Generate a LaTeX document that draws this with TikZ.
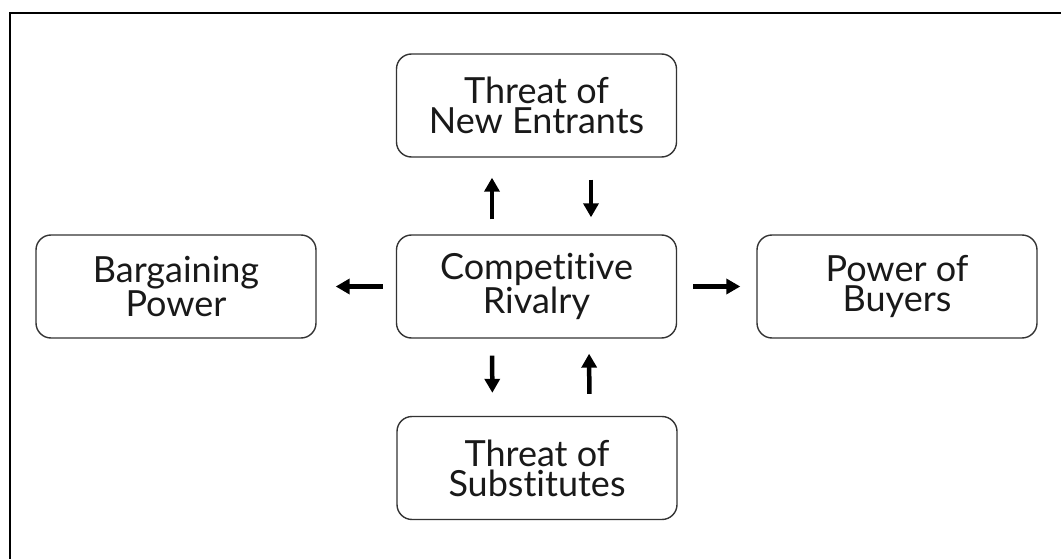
\documentclass[tikz,border=0pt]{standalone}
\usepackage{fontspec}
\setmainfont{Lato}[Ligatures=NoCommon]
\usetikzlibrary{arrows.meta}

\tikzset{
    force/.style={draw=black!80, line width=1.4pt, rounded corners=15pt,
        minimum width=280pt, minimum height=103pt, align=center,
        font=\fontsize{36}{30}\selectfont, text=black!90},
    push/.style={line width=4.5pt, -{Triangle[length=14pt,width=15pt]}}
}

\begin{document}
\begin{tikzpicture}[x=1pt, y=-1pt]
    \useasboundingbox (0,0) rectangle (1061,559);

    % Frame
    \draw[line width=2.6pt] (10,570) -- (10,13) -- (1070,13);

    % Forces
    \node[force] (entrants) at (536.5,105.5) {Threat of\\New Entrants};
    \node[force] (rivalry) at (536.5,286.5) {Competitive\\Rivalry};
    \node[force] (bargaining) at (176,286.5) {Bargaining\\Power};
    \node[force] (buyers) at (897,286.5) {Power of\\Buyers};
    \node[force] (substitutes) at (537,468) {Threat of\\Substitutes};

    % Arrows - top
    \draw[push, shorten <=15pt, shorten >=20pt] ([xshift=-44.5pt]rivalry.north) -- ([xshift=-44.5pt]entrants.south);
    \draw[push, shorten <=22pt, shorten >=17pt] ([xshift=54.5pt]entrants.south) -- ([xshift=54.5pt]rivalry.north);

    % Arrows - sides
    \draw[push, shorten <=13pt, shorten >=19pt] (rivalry.west) -- (bargaining.east);
    \draw[push, shorten <=16pt, shorten >=16pt] (rivalry.east) -- (buyers.west);

    % Arrows - bottom
    \draw[push, shorten <=17pt, shorten >=23pt] ([xshift=-44.5pt]rivalry.south) -- ([xshift=-44.5pt]substitutes.north);
    \draw[push, shorten <=22pt, shorten >=15pt] ([xshift=52.5pt]substitutes.north) -- ([xshift=52.5pt]rivalry.south);

\end{tikzpicture}
\end{document}
